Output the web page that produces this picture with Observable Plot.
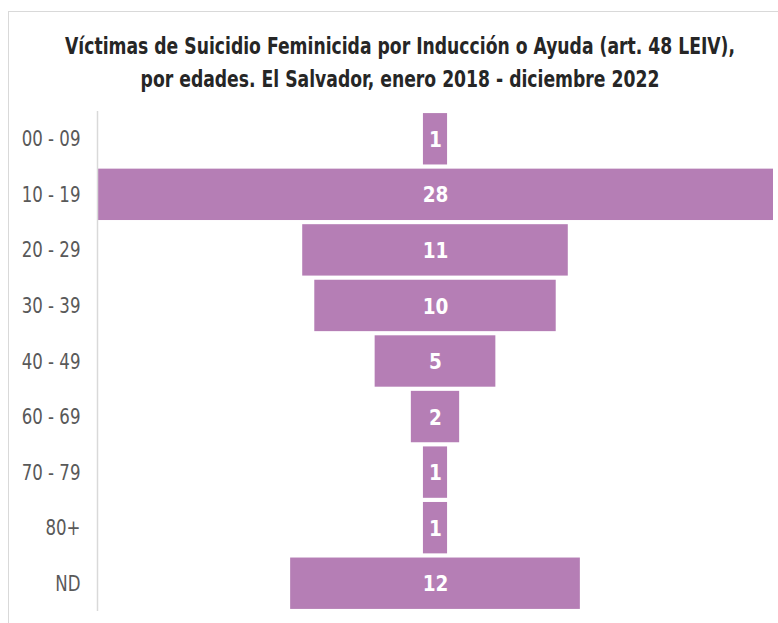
<!DOCTYPE html>
<html>
<head>
<meta charset="utf-8">
<script src="https://cdn.jsdelivr.net/npm/d3@7"></script>
<script src="https://cdn.jsdelivr.net/npm/@observablehq/plot@0.6"></script>
<style>
  html, body { margin: 0; padding: 0; background: #fff; }
  #wrap { position: relative; width: 778px; height: 623px; overflow: hidden; }
  #frame { position: absolute; left: 8px; top: 11px; width: 780px; height: 700px; border: 1px solid #d9d9d9; box-sizing: border-box; }
  #title { position: absolute; left: 0; top: 30px; width: 800px; text-align: center; white-space: nowrap;
    font-family: "DejaVu Sans Condensed", "DejaVu Sans", sans-serif;
    font-weight: bold; font-size: 22.5px; line-height: 33px; color: #262626;
    transform: scaleX(0.85); transform-origin: 400px 0; }
  #chart { position: absolute; left: 0; top: 100px; }
</style>
</head>
<body>
<div id="wrap">
  <div id="frame"></div>
  <div id="title">Víctimas de Suicidio Feminicida por Inducción o Ayuda (art. 48 LEIV),<br>por edades. El Salvador, enero 2018 - diciembre 2022</div>
  <div id="chart"></div>
</div>
<script>
const ageGroups = ["00 - 09", "10 - 19", "20 - 29", "30 - 39", "40 - 49", "60 - 69", "70 - 79", "80+", "ND"];
const victims = [1, 28, 11, 10, 5, 2, 1, 1, 12];

const rows = ageGroups.map((g, i) => ({group: g, value: victims[i]}));
const maxV = d3.max(victims);
const font = '"DejaVu Sans Condensed", "DejaVu Sans", sans-serif';

const chart = Plot.plot({
  width: 778,
  height: 523,
  marginLeft: 97,
  marginRight: 5,
  marginTop: 11,
  marginBottom: 12,
  style: {fontFamily: font, background: "transparent", overflow: "visible"},
  x: {domain: [-maxV / 2, maxV / 2], axis: null},
  y: {domain: ageGroups, paddingInner: 0.075, paddingOuter: 0.0375, round: false, label: null, tickSize: 0, tickPadding: 17},
  marks: [
    Plot.barX(rows, {x1: d => -d.value / 2, x2: d => d.value / 2, y: "group", fill: "#b57eb5"}),
    Plot.text(rows, {x: 0, y: "group", text: d => String(d.value), fill: "white", fontWeight: "bold", fontSize: 20.5, dy: 1, ariaLabel: "value-label"}),
    Plot.ruleX([0], {x: -maxV / 2, stroke: "#d9d9d9", strokeWidth: 1.5})
  ]
});
document.getElementById("chart").appendChild(chart);

function squeeze(sel, s) {
  sel.each(function() {
    const el = d3.select(this);
    let t = el.attr("transform");
    if (!t) {
      const x = +el.attr("x") || 0, y = +el.attr("y") || 0;
      el.attr("x", null).attr("y", null);
      t = `translate(${x},${y})`;
    }
    el.attr("transform", `${t} scale(${s},1)`);
  });
}

const yLab = d3.select(chart).selectAll("[aria-label='y-axis tick label']");
yLab.attr("font-size", 22).attr("fill", "#595959");
squeeze(yLab.selectAll("text"), 0.84);
squeeze(d3.select(chart).selectAll("[aria-label='value-label'] text"), 0.86);
</script>
</body>
</html>
